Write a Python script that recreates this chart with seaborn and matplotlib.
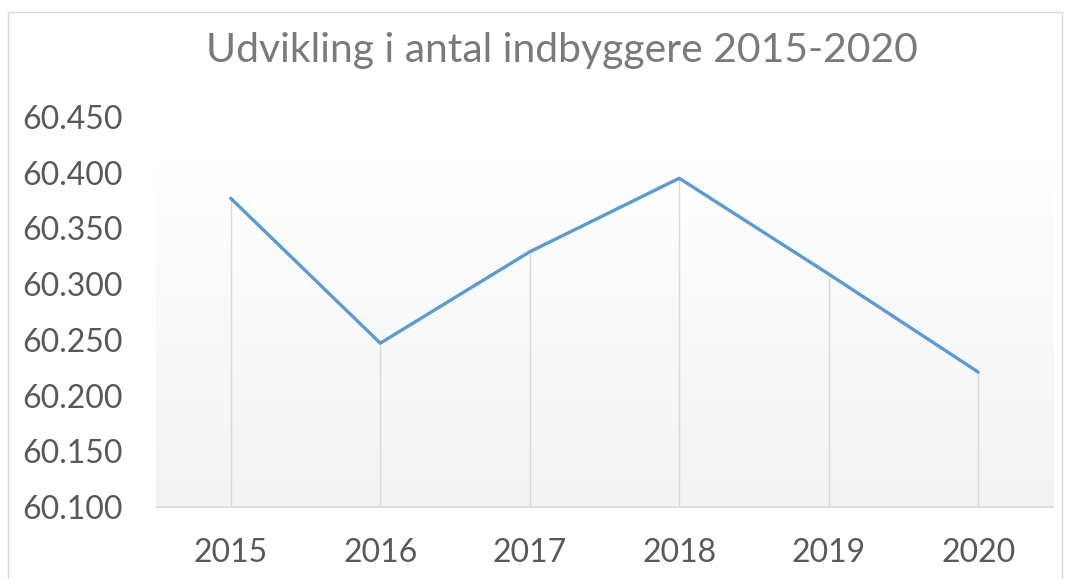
import numpy as np
import pandas as pd
import matplotlib
matplotlib.use("Agg")
import matplotlib.pyplot as plt
import seaborn as sns
from matplotlib.colors import LinearSegmentedColormap
from matplotlib.patches import Rectangle

years = ["2015", "2016", "2017", "2018", "2019", "2020"]
population = [60377, 60247, 60329, 60395, 60309, 60221]
y_ticks = [60100, 60150, 60200, 60250, 60300, 60350, 60400, 60450]
title = "Udvikling i antal indbyggere 2015-2020"

sns.set_theme(style="white")
plt.rcParams['font.family'] = ['Lato', 'DejaVu Sans']

df = pd.DataFrame({"pos": np.arange(len(years)), "year": years, "pop": population})

fig = plt.figure(figsize=(10.67, 5.79), dpi=100)
ax = fig.add_axes([0.1462, 0.1244, 0.8407, 0.6736])

ymin, ymax = y_ticks[0], y_ticks[-1]
# gradient background
cmap = LinearSegmentedColormap.from_list("g", ["#F2F2F2", "#FFFFFF"])
grad = np.linspace(0, 1, 256).reshape(-1, 1)
ax.imshow(grad, aspect="auto", cmap=cmap, origin="lower",
          extent=[-0.5, len(years) - 0.5, ymin, ymin + (ymax - ymin) * 0.88], zorder=0)

ax.vlines(df["pos"], ymin, df["pop"], color="#D9D9D9", linewidth=1.0, zorder=1)
sns.lineplot(data=df, x="pos", y="pop", ax=ax, color="#5B9BD5", linewidth=2.4, zorder=3)

ax.set_xlim(-0.5, len(years) - 0.5)
ax.set_ylim(ymin, ymax)
ax.set_xticks(df["pos"])
ax.set_xticklabels(years)
ax.set_yticks(y_ticks)
ax.set_yticklabels([f"{v:,.0f}".replace(",", ".") for v in y_ticks])
ax.set_xlabel("")
ax.set_ylabel("")
ax.tick_params(axis="both", length=0, labelsize=23, labelcolor="#595959")
ax.tick_params(axis="y", pad=24)
ax.tick_params(axis="x", pad=22)
for s in ["top", "right", "left"]:
    ax.spines[s].set_visible(False)
ax.spines["bottom"].set_color("#D9D9D9")
ax.spines["bottom"].set_linewidth(1.2)
ax.set_facecolor("white")
ax.grid(False)

fig.text(0.5263, 0.912, title, ha="center", va="center", fontsize=29.4, color="#7A7A7A")

fig.patches.append(Rectangle((8 / 1067, -0.05), (1062 - 8) / 1067, 1 - 12 / 579 + 0.05,
                             transform=fig.transFigure, fill=False,
                             edgecolor="#D9D9D9", linewidth=1.0))

fig.savefig("out.png", dpi=100)
